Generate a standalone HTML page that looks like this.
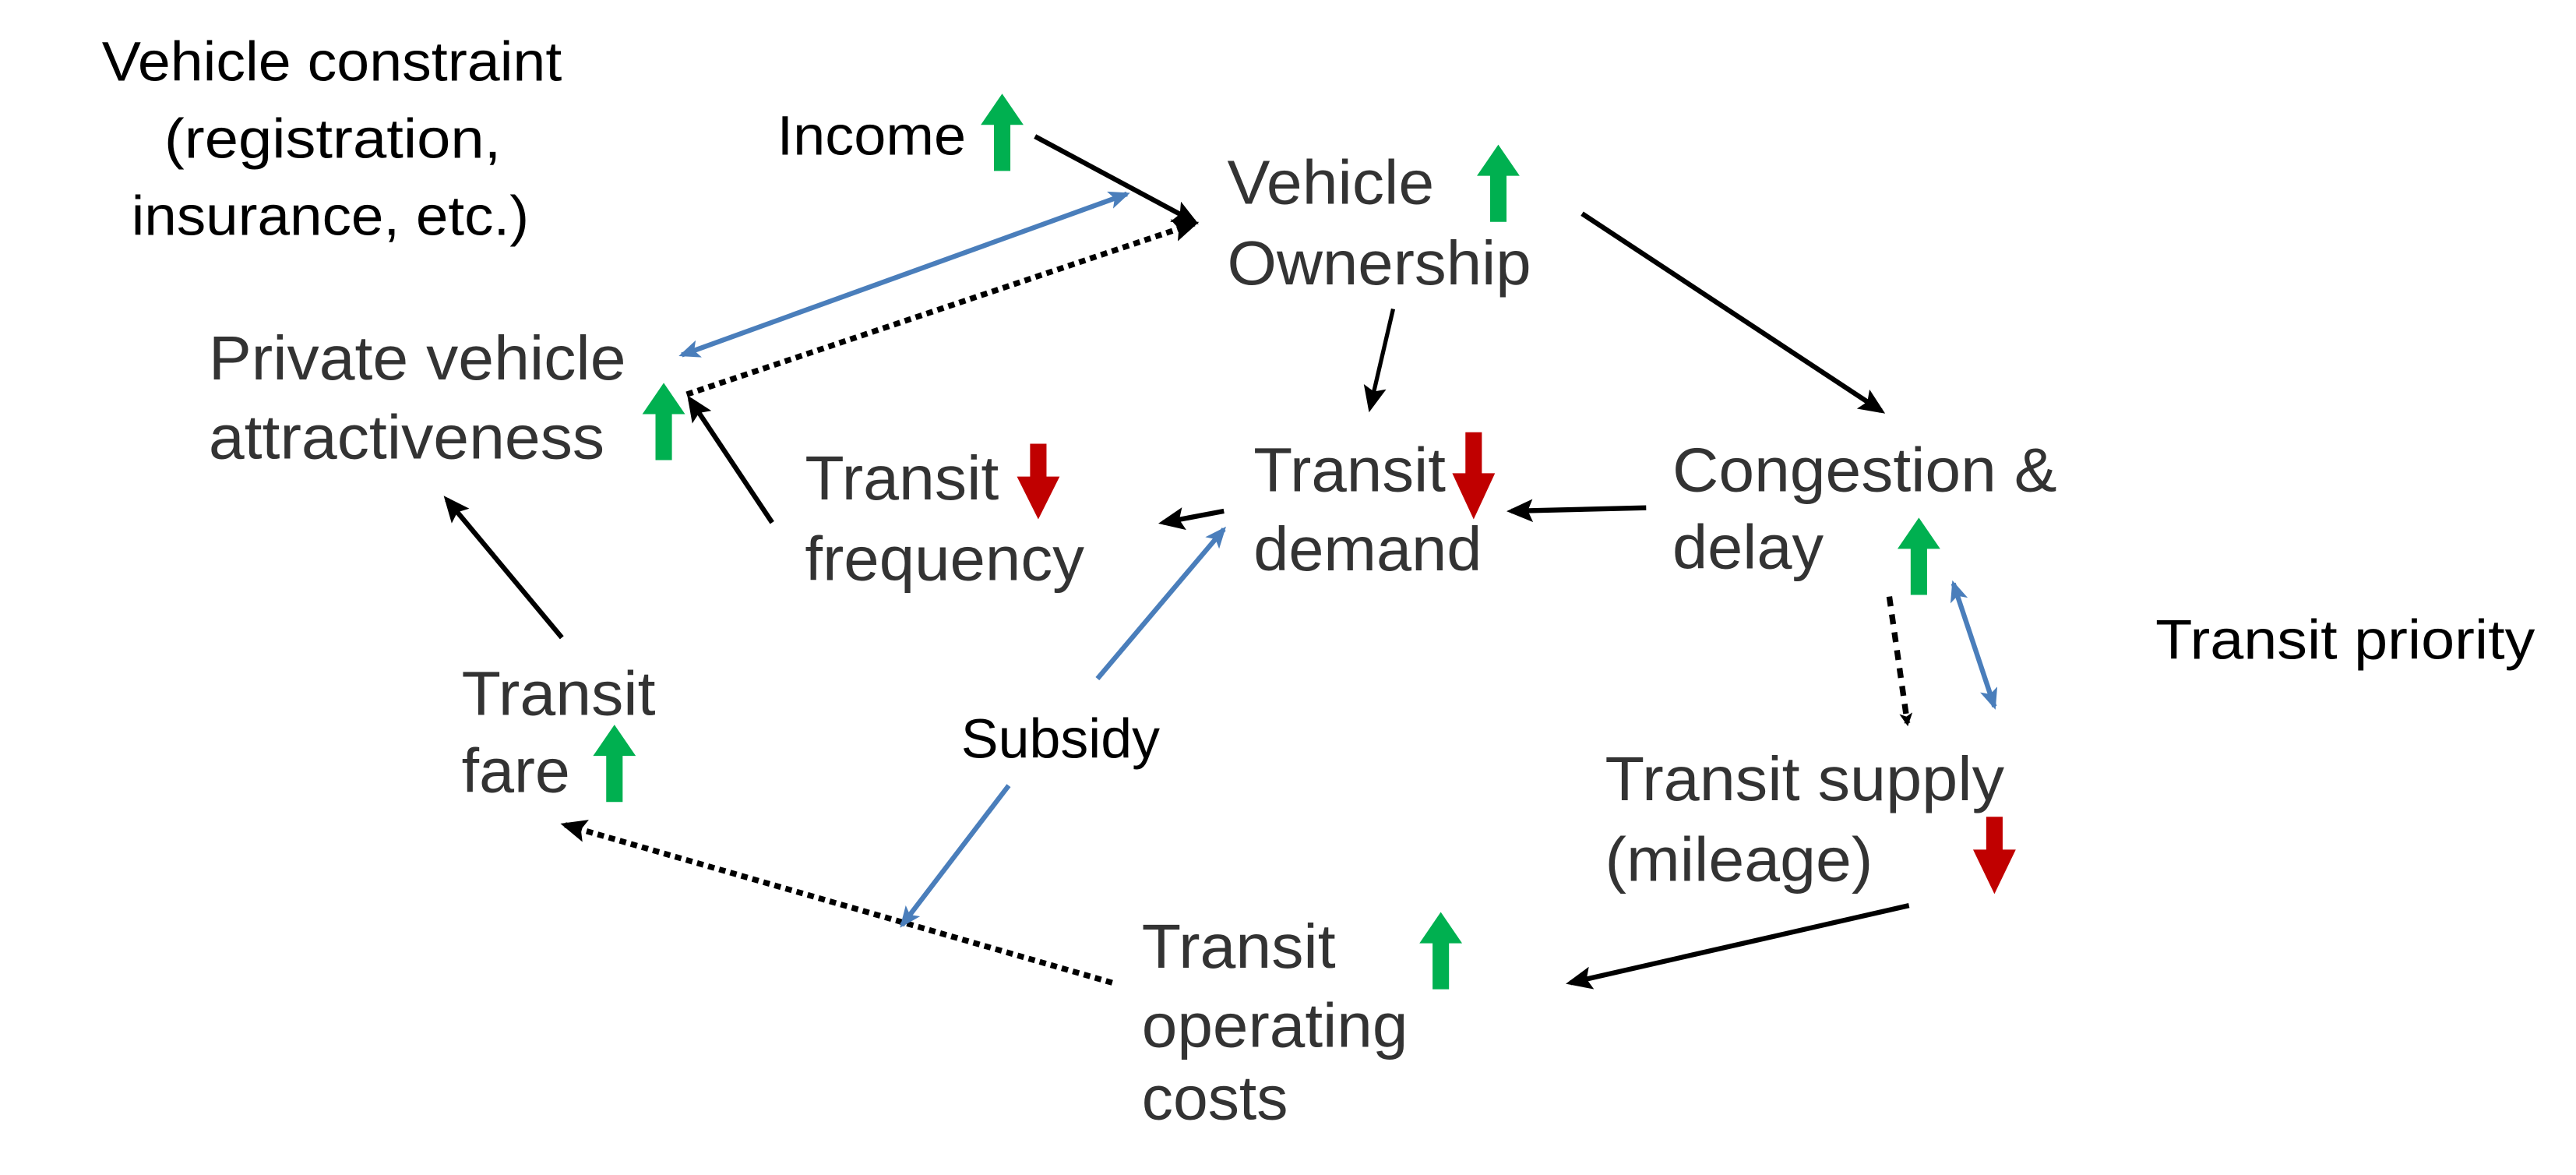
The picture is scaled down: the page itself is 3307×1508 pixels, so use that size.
<!DOCTYPE html>
<html><head><meta charset="utf-8"><style>html,body{margin:0;padding:0;background:#fff;}svg{display:block}</style></head>
<body>
<svg width="3307" height="1508" viewBox="0 0 1568 715" preserveAspectRatio="none" xmlns="http://www.w3.org/2000/svg">
<defs>
<marker id="ab" markerWidth="8" markerHeight="8" refX="6" refY="4" orient="auto" markerUnits="userSpaceOnUse" viewBox="0 0 8 8"><path d="M0,0 L8,4 L0,8 L2,4 z" fill="#000"/></marker>
<marker id="abl" markerWidth="13" markerHeight="11" refX="11" refY="5.5" orient="auto-start-reverse" markerUnits="userSpaceOnUse" viewBox="0 0 13 11"><path d="M0,0 L13,5.5 L0,11 L3,5.5 z" fill="#4a7ebb"/></marker>
<marker id="ak" markerWidth="16" markerHeight="14" refX="13" refY="7" orient="auto" markerUnits="userSpaceOnUse" viewBox="0 0 16 14"><path d="M0,0 L16,7 L0,14 L3,7 z" fill="#000"/></marker>
</defs>
<g font-family="Liberation Sans, sans-serif" font-size="34" fill="#000" lengthAdjust="spacingAndGlyphs">
<text x="62" y="49" textLength="280" lengthAdjust="spacingAndGlyphs">Vehicle constraint</text>
<text x="100" y="96" textLength="205" lengthAdjust="spacingAndGlyphs">(registration,</text>
<text x="80" y="143" textLength="242" lengthAdjust="spacingAndGlyphs">insurance, etc.)</text>
<text x="473" y="94" textLength="115" lengthAdjust="spacingAndGlyphs">Income</text>
<text x="1312" y="401" textLength="231" lengthAdjust="spacingAndGlyphs">Transit priority</text>
<text x="585" y="461" textLength="121" lengthAdjust="spacingAndGlyphs">Subsidy</text>
</g>
<g font-family="Liberation Sans, sans-serif" font-size="38" fill="#333">
<text x="747" y="124" textLength="126" lengthAdjust="spacingAndGlyphs">Vehicle</text><text x="747" y="173" textLength="185" lengthAdjust="spacingAndGlyphs">Ownership</text>
<text x="127" y="231" textLength="254" lengthAdjust="spacingAndGlyphs">Private vehicle</text><text x="127" y="279" textLength="241" lengthAdjust="spacingAndGlyphs">attractiveness</text>
<text x="490" y="304" textLength="118" lengthAdjust="spacingAndGlyphs">Transit</text><text x="490" y="353" textLength="170" lengthAdjust="spacingAndGlyphs">frequency</text>
<text x="763" y="299" textLength="117" lengthAdjust="spacingAndGlyphs">Transit</text><text x="763" y="347" textLength="139" lengthAdjust="spacingAndGlyphs">demand</text>
<text x="1018" y="299" textLength="234" lengthAdjust="spacingAndGlyphs">Congestion &amp;</text><text x="1018" y="346" textLength="92" lengthAdjust="spacingAndGlyphs">delay</text>
<text x="281" y="435" textLength="118" lengthAdjust="spacingAndGlyphs">Transit</text><text x="281" y="482" textLength="66" lengthAdjust="spacingAndGlyphs">fare</text>
<text x="977" y="487" textLength="243" lengthAdjust="spacingAndGlyphs">Transit supply</text><text x="977" y="536" textLength="163" lengthAdjust="spacingAndGlyphs">(mileage)</text>
<text x="695" y="589" textLength="118" lengthAdjust="spacingAndGlyphs">Transit</text><text x="695" y="637" textLength="162" lengthAdjust="spacingAndGlyphs">operating</text><text x="695" y="681" textLength="89" lengthAdjust="spacingAndGlyphs">costs</text>
</g>
<g fill="#00b050">
<path d="M605,104 h10 v-28 h8 l-13,-19 l-13,19 h8z"/>
<path d="M907,135 h10 v-28 h8 l-13,-19 l-13,19 h8z"/>
<path d="M399,280 h10 v-28 h8 l-13,-19 l-13,19 h8z"/>
<path d="M1163,362 h10 v-28 h8 l-13,-19 l-13,19 h8z"/>
<path d="M369,488 h10 v-28 h8 l-13,-19 l-13,19 h8z"/>
<path d="M872,602 h10 v-28 h8 l-13,-19 l-13,19 h8z"/>
</g>
<g fill="#c00000">
<path d="M627,270 h10 v20 h8 l-13,26 l-13,-26 h8z"/>
<path d="M892,263 h10 v25 h8 l-13,28 l-13,-28 h8z"/>
<path d="M1209,497 h10 v20 h8 l-13,27 l-13,-27 h8z"/>
</g>
<g stroke="#000" stroke-width="3" fill="none">
<line x1="630" y1="83" x2="727" y2="135" marker-end="url(#ak)"/>
<line x1="848" y1="188" x2="834" y2="248" stroke-width="2.5" marker-end="url(#ak)"/>
<line x1="963" y1="130" x2="1145" y2="250" marker-end="url(#ak)"/>
<line x1="1002" y1="309" x2="920" y2="311" marker-end="url(#ak)"/>
<line x1="745" y1="311" x2="708" y2="318" marker-end="url(#ak)"/>
<line x1="470" y1="318" x2="420" y2="243" marker-end="url(#ak)"/>
<line x1="342" y1="388" x2="272" y2="304" marker-end="url(#ak)"/>
<line x1="1162" y1="551" x2="956" y2="598" marker-end="url(#ak)"/>
</g>
<g stroke="#000" stroke-width="3.5" fill="none" stroke-dasharray="4 3">
<line x1="418" y1="240" x2="727" y2="136" marker-end="url(#ak)"/>
<line x1="677" y1="598" x2="344" y2="502" marker-end="url(#ak)"/>
<line x1="1150" y1="363" x2="1161" y2="440" stroke-dasharray="6 5" marker-end="url(#ab)"/>
</g>
<g stroke="#4a7ebb" stroke-width="3" fill="none">
<line x1="415" y1="216" x2="686" y2="118" marker-start="url(#abl)" marker-end="url(#abl)"/>
<line x1="668" y1="413" x2="745" y2="322" marker-end="url(#abl)"/>
<line x1="614" y1="478" x2="549" y2="563" marker-end="url(#abl)"/>
<line x1="1189" y1="355" x2="1214" y2="430" marker-start="url(#abl)" marker-end="url(#abl)"/>
</g>
</svg>
</body></html>
